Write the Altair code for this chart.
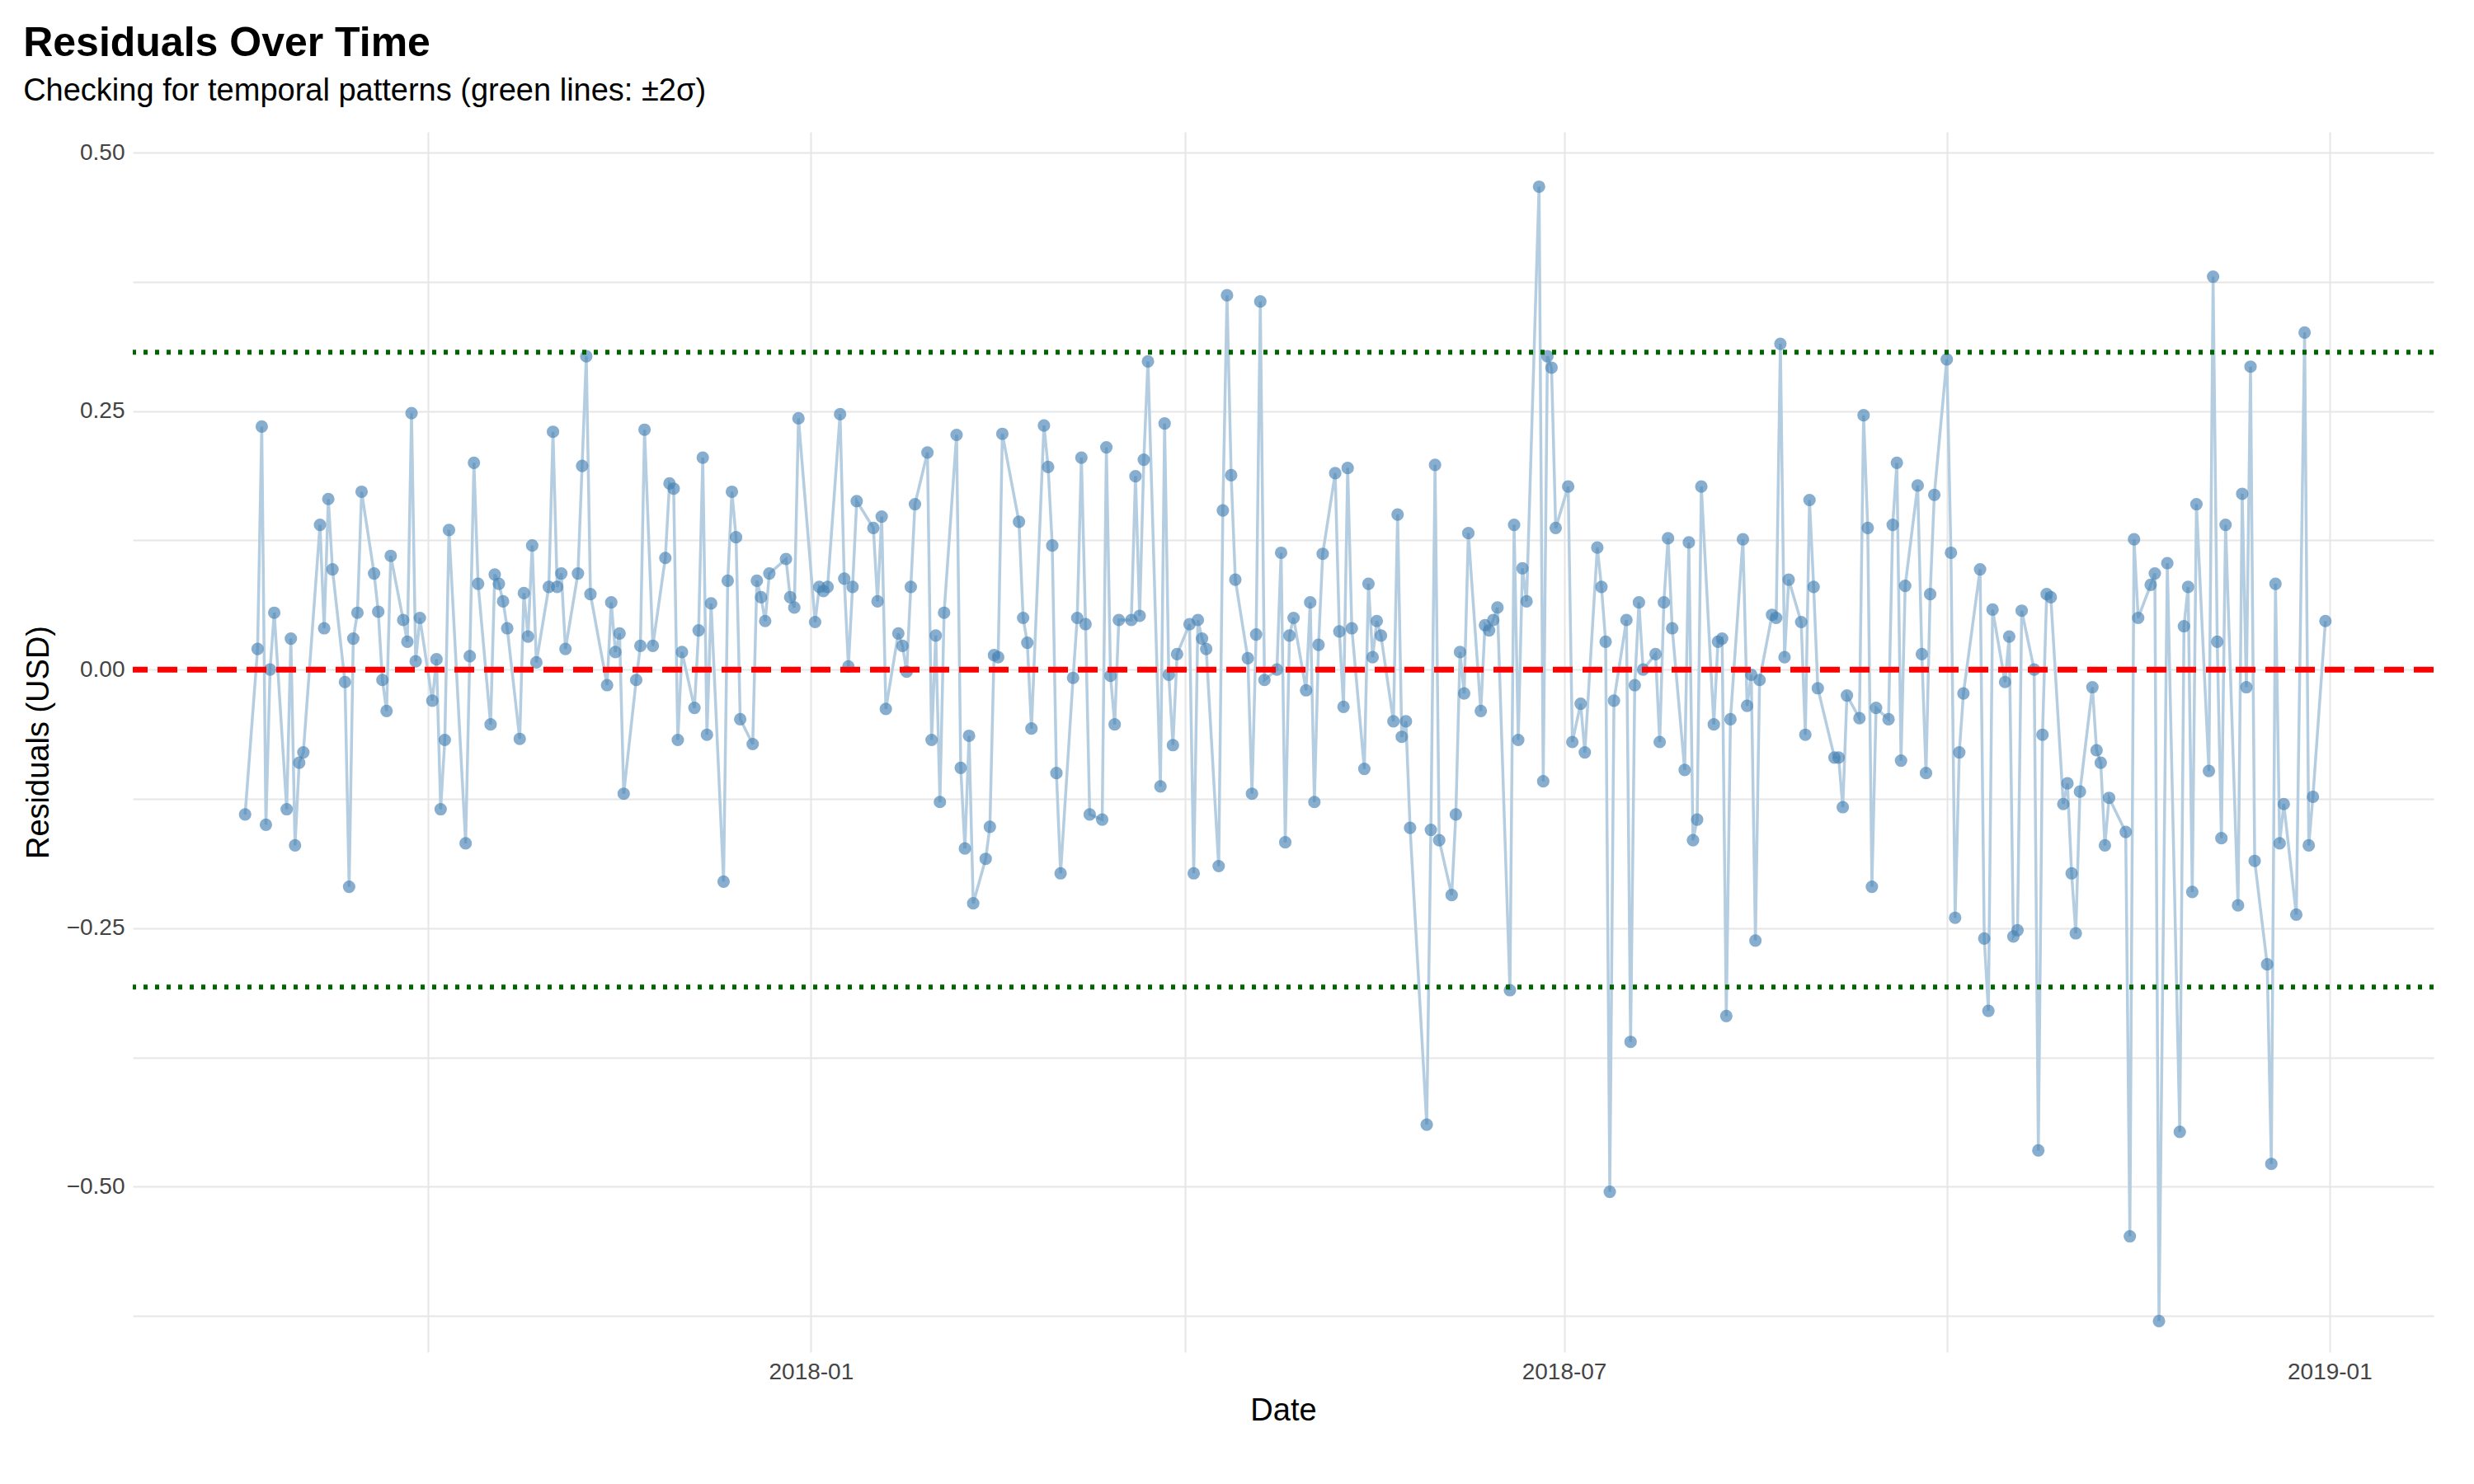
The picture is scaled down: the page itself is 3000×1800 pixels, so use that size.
import altair as alt
import pandas as pd
from pandas.tseries.holiday import USFederalHolidayCalendar

# residuals, one per trading day
residuals = [
    -0.14, 0.02, 0.235, -0.15, 0.0, 0.055, -0.135, 0.03, -0.17, -0.09,
    -0.08, 0.14, 0.04, 0.165, 0.097, -0.012, -0.21, 0.03, 0.055, 0.172,
    0.093, 0.056, -0.01, -0.04, 0.11, 0.048, 0.027, 0.248, 0.008, 0.05,
    -0.03, 0.01, -0.135, -0.068, 0.135, -0.168, 0.013, 0.2, 0.083, -0.053,
    0.092, 0.083, 0.066, 0.04, -0.067, 0.074, 0.032, 0.12, 0.007, 0.08,
    0.23, 0.08, 0.093, 0.02, 0.093, 0.197, 0.303, 0.073, -0.015, 0.065,
    0.017, 0.035, -0.12, -0.01, 0.023, 0.232, 0.023, 0.108, 0.18, 0.175,
    -0.068, 0.017, -0.037, 0.038, 0.205, -0.063, 0.064, -0.205, 0.086, 0.172,
    0.128, -0.048, -0.072, 0.086, 0.07, 0.047, 0.093, 0.107, 0.07, 0.06,
    0.243, 0.046, 0.08, 0.076, 0.08, 0.247, 0.088, 0.003, 0.08, 0.163,
    0.137, 0.066, 0.148, -0.038, 0.035, 0.023, -0.002, 0.08, 0.16, 0.21,
    -0.068, 0.033, -0.128, 0.055, 0.227, -0.095, -0.173, -0.064, -0.226, -0.183,
    -0.152, 0.014, 0.012, 0.228, 0.143, 0.05, 0.026, -0.057, 0.236, 0.196,
    0.12, -0.1, -0.197, -0.008, 0.05, 0.205, 0.044, -0.14, -0.145, 0.215,
    -0.006, -0.053, 0.048, 0.048, 0.187, 0.052, 0.203, 0.298, -0.113, 0.238,
    -0.005, -0.073, 0.015, 0.044, -0.197, 0.048, 0.03, 0.02, -0.19, 0.154,
    0.362, 0.188, 0.087, 0.011, -0.12, 0.034, 0.356, -0.01, 0.0, 0.113,
    -0.167, 0.033, 0.05, -0.02, 0.065, -0.128, 0.024, 0.112, 0.19, 0.037,
    -0.036, 0.195, 0.04, -0.096, 0.083, 0.012, 0.047, 0.033, -0.05, 0.15,
    -0.065, -0.05, -0.153, -0.44, -0.155, 0.198, -0.165, -0.218, -0.14, 0.017,
    -0.023, 0.132, -0.04, 0.043, 0.038, 0.048, 0.06, -0.31, 0.14, -0.068,
    0.098, 0.066, 0.467, -0.108, 0.303, 0.292, 0.137, 0.177, -0.07, -0.033,
    -0.08, 0.118, 0.08, 0.027, -0.505, -0.03, 0.048, -0.36, -0.015, 0.065,
    0.0, 0.015, -0.07, 0.065, 0.127, 0.04, -0.097, 0.123, -0.165, -0.145,
    0.177, -0.053, 0.027, 0.03, -0.335, -0.048, 0.126, -0.035, -0.005, -0.262,
    -0.01, 0.053, 0.05, 0.315, 0.012, 0.087, 0.046, -0.063, 0.164, 0.08,
    -0.018, -0.085, -0.085, -0.133, -0.025, -0.047, 0.246, 0.137, -0.21, -0.037,
    -0.048, 0.14, 0.2, -0.088, 0.081, 0.178, 0.015, -0.1, 0.073, 0.169,
    0.3, 0.113, -0.24, -0.08, -0.023, 0.097, -0.26, -0.33, 0.058, -0.012,
    0.032, -0.258, -0.252, 0.057, 0.0, -0.465, -0.063, 0.073, 0.07, -0.13,
    -0.11, -0.197, -0.255, -0.118, -0.017, -0.078, -0.09, -0.17, -0.124, -0.157,
    -0.548, 0.126, 0.05, 0.082, 0.093, -0.63, 0.103, -0.447, 0.042, 0.08,
    -0.215, 0.16, -0.098, 0.38, 0.027, -0.163, 0.14, -0.228, 0.17, -0.017,
    0.293, -0.185, -0.285, -0.478, 0.083, -0.168, -0.13, -0.237, 0.326, -0.17,
    -0.123, 0.047,
]
sigma2 = 0.307
y_ticks = [-0.625, -0.5, -0.375, -0.25, -0.125, 0.0, 0.125, 0.25, 0.375, 0.5]
x_ticks = ["2017-10-01", "2018-01-01", "2018-04-01", "2018-07-01",
           "2018-10-01", "2019-01-01"]

day = pd.offsets.CustomBusinessDay(calendar=USFederalHolidayCalendar())
dates = pd.date_range(end="2018-12-31", periods=len(residuals), freq=day)
df = pd.DataFrame({"date": dates, "resid": residuals})
ref = pd.DataFrame({"v": [0.0, sigma2, -sigma2], "kind": ["zero", "hi", "lo"]})

x = alt.X("date:T", title="Date",
          scale=alt.Scale(domain=["2017-07-22", "2019-01-26"]),
          axis=alt.Axis(values=[pd.Timestamp(t).isoformat() for t in x_ticks],
                        format="%Y-%m",
                        labelExpr="(month(datum.value) == 0 || month(datum.value) == 6) ? datum.label : ''"))
y = alt.Y("resid:Q", title="Residuals (USD)",
          scale=alt.Scale(domain=[-0.66, 0.52], nice=False, zero=False),
          axis=alt.Axis(values=y_ticks, format=".2f",
                        labelExpr="abs(datum.value * 4 - round(datum.value * 4)) < 0.01 ? datum.label : ''"))

line = alt.Chart(df).mark_line(color="#b4cde0", strokeWidth=3.5).encode(x=x, y=y)
pts = alt.Chart(df).mark_circle(size=230, color="steelblue", opacity=0.65).encode(x=x, y=y)
zero = alt.Chart(ref[ref.kind == "zero"]).mark_rule(
    color="red", strokeWidth=7, strokeDash=[24, 12]).encode(y="v:Q")
band = alt.Chart(ref[ref.kind != "zero"]).mark_rule(
    color="darkgreen", strokeWidth=6, strokeDash=[5, 9]).encode(y="v:Q")

chart = alt.layer(line, pts, zero, band).properties(
    width=2790, height=1480,
    padding={"left": 20, "top": 20, "right": 10, "bottom": 10},
    title=alt.TitleParams("Residuals Over Time",
                          subtitle="Checking for temporal patterns (green lines: ±2σ)",
                          anchor="start", fontSize=50, subtitleFontSize=38,
                          font="Liberation Sans", subtitleFont="Liberation Sans",
                          fontWeight="bold", subtitlePadding=14,
                          color="black", subtitleColor="black", offset=30),
).configure_view(stroke=None).configure_axis(
    grid=True, gridColor="#e6e6e6", gridWidth=2, domain=False, ticks=False,
    labelFont="Liberation Sans", titleFont="Liberation Sans",
    labelFontSize=28, titleFontSize=38, titleFontWeight="normal",
    labelColor="#444444", titleColor="black", labelPadding=10, titlePadding=14,
)

chart.save("out.html", embed_options={"renderer": "svg", "actions": False})
